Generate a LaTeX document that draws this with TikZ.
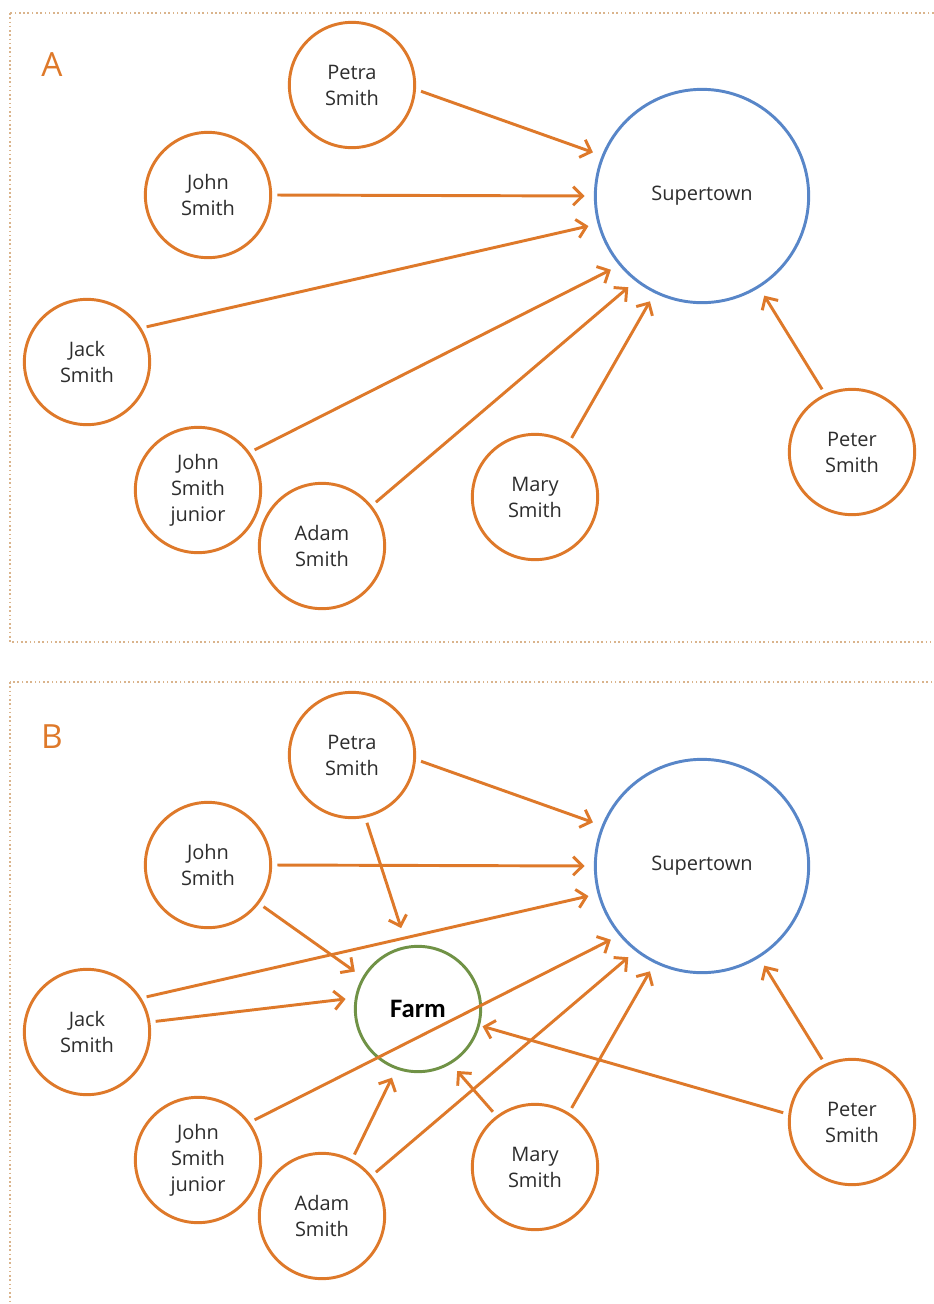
\documentclass[tikz,border=0pt]{standalone}
\usepackage{fontspec}
\setmainfont{Open Sans}
\newfontfamily\granjafont{Carlito}
\usetikzlibrary{arrows.meta}
\definecolor{naranja}{RGB}{222,121,42}
\definecolor{azul}{RGB}{88,134,200}
\definecolor{verde}{RGB}{112,146,70}
\definecolor{borde}{RGB}{218,180,140}
\definecolor{texto}{RGB}{45,45,45}
\tikzset{
    persona/.style={circle, draw=naranja, line width=2.2pt, minimum size=94pt, inner sep=0pt,
        align=center, text=texto, font=\fontsize{15}{19.5}\selectfont},
    ciudad/.style={persona, draw=azul, minimum size=160pt},
    granja/.style={persona, draw=verde, text=black, font=\granjafont\bfseries\fontsize{20}{24}\selectfont},
    flecha/.style={draw=naranja, line width=2.2pt, -{Straight Barb[length=7pt,width=14pt]},
        shorten >=7pt, shorten <=4pt},
    marco/.style={draw=borde, line width=1.2pt, dotted},
    letra/.style={text=naranja, font=\fontsize{25}{30}\selectfont},
}

\begin{document}
\begin{tikzpicture}[x=0.75pt, y=-0.75pt]
\useasboundingbox (0,0) rectangle (933,1304);
% panel A
\begin{scope}[shift={(0,0)}]
\draw[marco] (10,13) rectangle (950,642);
\node[letra] (letraA) at (52,65) {A};
\node[ciudad] (superA) at (702,196) {Supertown};
\node[persona] (petraA) at (352,85) {Petra\\Smith};
\node[persona] (johnA) at (208,195) {John\\Smith};
\node[persona] (jackA) at (87,362) {Jack\\Smith};
\node[persona] (juniorA) at (198,490) {John\\Smith\\junior};
\node[persona] (adamA) at (322,546) {Adam\\Smith};
\node[persona] (maryA) at (535,497) {Mary\\Smith};
\node[persona] (peterA) at (852,452) {Peter\\Smith};
\draw[flecha] (petraA.-4) -- (superA.158);
\draw[flecha] (johnA.0) -- (superA.180);
\draw[flecha] (jackA.32) -- (superA.195);
\draw[flecha] (juniorA.36) -- (superA.220);
\draw[flecha] (adamA.39) -- (superA.232);
\draw[flecha] (maryA.58) -- (superA.244);
\draw[flecha] (peterA.115) -- (superA.302);
\end{scope}
% panel B
\begin{scope}[shift={(0,670)}]
\draw[marco] (10,12) rectangle (950,700);
\node[letra] (letraB) at (52,67) {B};
\node[ciudad] (superB) at (702,196) {Supertown};
\node[granja] (farmB) at (418,339) {Farm};
\node[persona] (petraB) at (352,85) {Petra\\Smith};
\node[persona] (johnB) at (208,195) {John\\Smith};
\node[persona] (jackB) at (87,362) {Jack\\Smith};
\node[persona] (juniorB) at (198,490) {John\\Smith\\junior};
\node[persona] (adamB) at (322,546) {Adam\\Smith};
\node[persona] (maryB) at (535,497) {Mary\\Smith};
\node[persona] (peterB) at (852,452) {Peter\\Smith};
\draw[flecha] (petraB.-4) -- (superB.158);
\draw[flecha] (johnB.0) -- (superB.180);
\draw[flecha] (jackB.32) -- (superB.195);
\draw[flecha] (juniorB.36) -- (superB.220);
\draw[flecha] (adamB.39) -- (superB.232);
\draw[flecha] (maryB.58) -- (superB.244);
\draw[flecha] (peterB.115) -- (superB.302);
\draw[flecha, shorten >=14pt] (petraB.282) -- (farmB.100);
\draw[flecha] (johnB.323) -- (farmB.150);
\draw[flecha] (jackB.9) -- (farmB.170);
\draw[flecha] (adamB.62) -- (farmB.250);
\draw[flecha] (maryB.127) -- (farmB.301);
\draw[flecha, shorten >=2pt] (peterB.173) -- (farmB.345);
\end{scope}
\end{tikzpicture}
\end{document}
